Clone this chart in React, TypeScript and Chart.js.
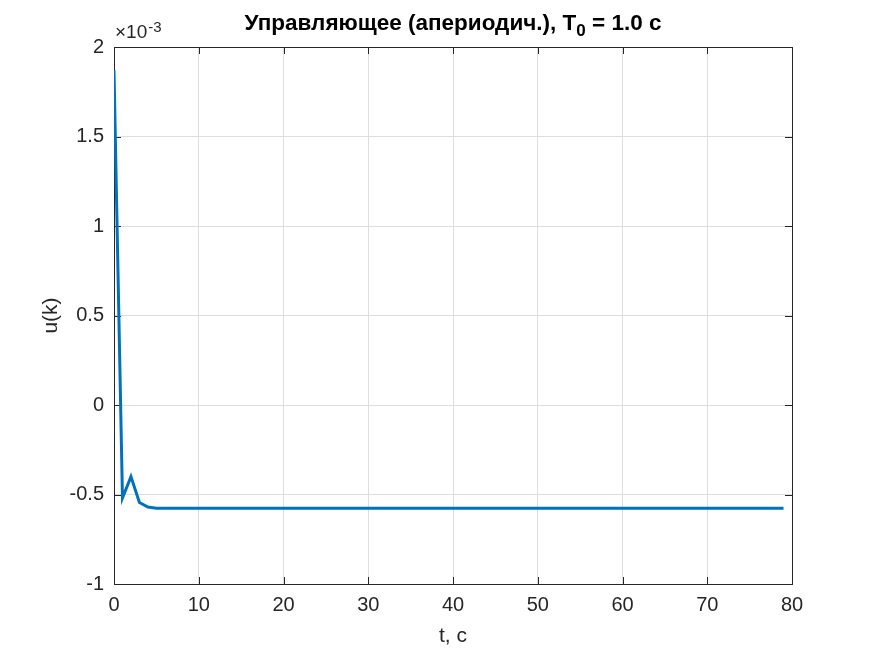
import React, { useEffect, useRef } from "react";
import { Chart, registerables } from "chart.js";

Chart.register(...registerables);

// time samples, s
const tValues = [
  0, 1, 2, 3, 4, 5, 6, 7, 8, 9, 10, 11, 12, 13, 14, 15, 16, 17, 18, 19,
  20, 21, 22, 23, 24, 25, 26, 27, 28, 29, 30, 31, 32, 33, 34, 35, 36, 37, 38, 39,
  40, 41, 42, 43, 44, 45, 46, 47, 48, 49, 50, 51, 52, 53, 54, 55, 56, 57, 58, 59,
  60, 61, 62, 63, 64, 65, 66, 67, 68, 69, 70, 71, 72, 73, 74, 75, 76, 77, 78, 79,
];
// control signal u(k), in units of 1e-3
const uValues = [
  1.87, -0.52, -0.40, -0.545, -0.57, -0.577, -0.577, -0.577, -0.577, -0.577,
  -0.577, -0.577, -0.577, -0.577, -0.577, -0.577, -0.577, -0.577, -0.577, -0.577,
  -0.577, -0.577, -0.577, -0.577, -0.577, -0.577, -0.577, -0.577, -0.577, -0.577,
  -0.577, -0.577, -0.577, -0.577, -0.577, -0.577, -0.577, -0.577, -0.577, -0.577,
  -0.577, -0.577, -0.577, -0.577, -0.577, -0.577, -0.577, -0.577, -0.577, -0.577,
  -0.577, -0.577, -0.577, -0.577, -0.577, -0.577, -0.577, -0.577, -0.577, -0.577,
  -0.577, -0.577, -0.577, -0.577, -0.577, -0.577, -0.577, -0.577, -0.577, -0.577,
  -0.577, -0.577, -0.577, -0.577, -0.577, -0.577, -0.577, -0.577, -0.577, -0.577,
];
const xTicks = [0, 10, 20, 30, 40, 50, 60, 70, 80];
const yTicks = [-1, -0.5, 0, 0.5, 1, 1.5, 2];

const titleMain = "Управляющее (апериодич.), T";
const titleSub = "0";
const titleTail = " = 1.0 с";
const xLabel = "t, с";
const yLabel = "u(k)";

const AXIS = "#262626";
const FONT = "'Liberation Sans', Arial, sans-serif";

const decorPlugin = {
  id: "decor",
  beforeDatasetsDraw(chart: any) {
    const { ctx, chartArea: a, scales } = chart;
    const xs = scales.x, ys = scales.y;
    ctx.save();
    ctx.strokeStyle = AXIS;
    ctx.lineWidth = 1;
    ctx.beginPath();
    const tl = 7;
    xTicks.forEach((v) => {
      const px = Math.round(xs.getPixelForValue(v)) + 0.5;
      ctx.moveTo(px, a.bottom);
      ctx.lineTo(px, a.bottom - tl);
      ctx.moveTo(px, a.top);
      ctx.lineTo(px, a.top + tl);
    });
    yTicks.forEach((v) => {
      const py = Math.round(ys.getPixelForValue(v)) + 0.5;
      ctx.moveTo(a.left, py);
      ctx.lineTo(a.left + tl, py);
      ctx.moveTo(a.right, py);
      ctx.lineTo(a.right - tl, py);
    });
    ctx.stroke();
    ctx.strokeRect(
      Math.round(a.left) + 0.5,
      Math.round(a.top) + 0.5,
      Math.round(a.right - a.left),
      Math.round(a.bottom - a.top)
    );
    ctx.restore();
  },
  afterDraw(chart: any) {
    const { ctx, chartArea: a } = chart;
    ctx.save();
    ctx.fillStyle = "#000";
    // title
    const big = `bold 22.5px ${FONT}`;
    const small = `bold 17px ${FONT}`;
    ctx.font = big;
    const w1 = ctx.measureText(titleMain).width;
    const w3 = ctx.measureText(titleTail).width;
    ctx.font = small;
    const w2 = ctx.measureText(titleSub).width;
    const total = w1 + w2 + w3;
    const cx = (a.left + a.right) / 2;
    let x = cx - total / 2;
    ctx.textBaseline = "alphabetic";
    ctx.textAlign = "left";
    ctx.font = big;
    ctx.fillText(titleMain, x, 30);
    x += w1;
    ctx.font = small;
    ctx.fillText(titleSub, x, 36);
    x += w2;
    ctx.font = big;
    ctx.fillText(titleTail, x, 30);

    // exponent label
    ctx.fillStyle = AXIS;
    ctx.font = `19px ${FONT}`;
    ctx.fillText("×10", a.left + 1, 38);
    const we = ctx.measureText("×10").width;
    ctx.font = `15px ${FONT}`;
    ctx.fillText("-3", a.left + 1 + we + 1, 32);

    // axis labels
    ctx.font = `21px ${FONT}`;
    ctx.textAlign = "center";
    ctx.fillText(xLabel, cx, 642);
    ctx.translate(51, (a.top + a.bottom) / 2);
    ctx.rotate(-Math.PI / 2);
    ctx.textBaseline = "middle";
    ctx.fillText(yLabel, 0, 0);
    ctx.restore();
  },
};

export default function App() {
  const ref = useRef<HTMLCanvasElement>(null);
  useEffect(() => {
    if (!ref.current) return;
    const points = tValues.map((t, i) => ({ x: t, y: uValues[i] }));
    const chart = new Chart(ref.current, {
      type: "line",
      data: {
        datasets: [
          {
            data: points,
            borderColor: "#0072BD",
            borderWidth: 3,
            pointRadius: 0,
            fill: false,
            tension: 0,
          },
        ],
      },
      options: {
        animation: false,
        responsive: false,
        maintainAspectRatio: false,
        layout: { padding: { left: 0, top: 47, right: 83, bottom: 0 } },
        plugins: {
          legend: { display: false },
          title: { display: false },
          tooltip: { enabled: false },
        },
        scales: {
          x: {
            type: "linear",
            min: 0,
            max: 80,
            afterFit: (s: any) => {
              s.height = 72;
            },
            afterBuildTicks: (s: any) => {
              s.ticks = xTicks.map((v) => ({ value: v }));
            },
            ticks: {
              color: AXIS,
              font: { family: FONT, size: 20 },
              padding: 9,
              maxRotation: 0,
              autoSkip: false,
            },
            grid: { color: "#dedede", drawTicks: false, tickLength: 0 },
            border: { display: false },
          },
          y: {
            type: "linear",
            min: -1,
            max: 2,
            afterFit: (s: any) => {
              s.width = 114;
            },
            afterBuildTicks: (s: any) => {
              s.ticks = yTicks.map((v) => ({ value: v }));
            },
            ticks: {
              color: AXIS,
              font: { family: FONT, size: 20 },
              padding: 10,
              autoSkip: false,
              callback: (v: any) => String(v),
            },
            grid: { color: "#dedede", drawTicks: false, tickLength: 0 },
            border: { display: false },
          },
        },
      },
      plugins: [decorPlugin],
    });
    return () => chart.destroy();
  }, []);
  return (
    <div style={{ position: "fixed", left: 0, top: 0, width: 875, height: 656, background: "#fff" }}>
      <canvas ref={ref} width={875} height={656} style={{ width: 875, height: 656 }} />
    </div>
  );
}
